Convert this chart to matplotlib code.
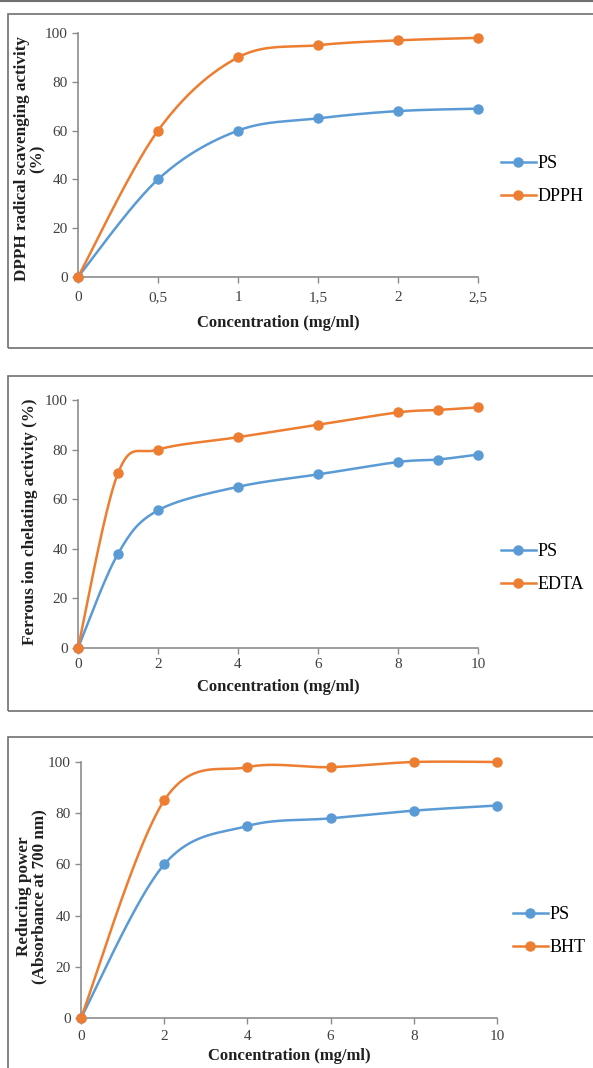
import numpy as np
import matplotlib
matplotlib.use("Agg")
import matplotlib.pyplot as plt
from matplotlib.patches import Rectangle
from matplotlib.lines import Line2D

plt.rcParams['font.family'] = ['Liberation Serif', 'DejaVu Serif']

# ---------- data ----------
dpph_conc = [0, 0.5, 1, 1.5, 2, 2.5]
dpph_ps = [0, 40, 60, 65, 68, 69]
dpph_std = [0, 60, 90, 95, 97, 98]
dpph_xticks = [0, 0.5, 1, 1.5, 2, 2.5]
dpph_xlabels = ['0', '0,5', '1', '1,5', '2', '2,5']

fe_conc = [0, 1, 2, 4, 6, 8, 9, 10]
fe_ps = [0, 38, 55.5, 65, 70, 75, 76, 78]
fe_std = [0, 70.5, 80, 85, 90, 95, 96, 97]
fe_xticks = [0, 2, 4, 6, 8, 10]

rp_conc = [0, 2, 4, 6, 8, 10]
rp_ps = [0, 60, 75, 78, 81, 83]
rp_std = [0, 85, 98, 98, 100, 100]
rp_xticks = [0, 2, 4, 6, 8, 10]

yticks = [0, 20, 40, 60, 80, 100]

BLUE = '#5B9BD5'
ORANGE = '#ED7D31'
AXCOL = '#8C8C8C'


def smooth(x, y, n=40):
    # excel style smoothed line (bezier through the points)
    x = np.asarray(x, float)
    y = np.asarray(y, float)
    pts = np.column_stack([x, y])
    out = []
    t = np.linspace(0, 1, n)[:, None]
    for i in range(len(pts) - 1):
        p0 = pts[max(i - 1, 0)]
        p1 = pts[i]
        p2 = pts[i + 1]
        p3 = pts[min(i + 2, len(pts) - 1)]
        c1 = p1 + (p2 - p0) / 6.0
        c2 = p2 - (p3 - p1) / 6.0
        seg = ((1 - t) ** 3) * p1 + 3 * ((1 - t) ** 2) * t * c1 + 3 * (1 - t) * t ** 2 * c2 + t ** 3 * p2
        out.append(seg if i == 0 else seg[1:])
    seg = np.vstack(out)
    return seg[:, 0], seg[:, 1]


def panel(rect, x, ps, std, std_name, xticks, xlabels, xmax, ylabel, ylab_xy, leg_xy,
          xpad=6, xlabpad=8):
    ax = fig.add_axes(rect)
    for yy, c in [(ps, BLUE), (std, ORANGE)]:
        sx, sy = smooth(x, yy)
        ax.plot(sx, sy, color=c, lw=1.8, zorder=3, clip_on=False)
        ax.plot(x, yy, 'o', color=c, ms=6.5, zorder=4, clip_on=False)
    ax.set_xlim(0, xmax)
    ax.set_ylim(0, 100)
    ax.set_xticks(xticks)
    ax.set_xticklabels(xlabels)
    ax.set_yticks(yticks)
    for s in ['top', 'right']:
        ax.spines[s].set_visible(False)
    for s in ['left', 'bottom']:
        ax.spines[s].set_color(AXCOL)
        ax.spines[s].set_linewidth(1.2)
    ax.tick_params(colors=AXCOL, labelcolor='#404040', labelsize=11, length=4, width=1.0)
    ax.tick_params(axis='x', pad=xpad)
    ax.set_xlabel('Concentration (mg/ml)', fontsize=12, fontweight='bold', color='#202020',
                  labelpad=xlabpad)
    ax.set_ylabel(ylabel, fontsize=12.3, fontweight='bold', color='#202020', linespacing=1.0)
    ax.yaxis.set_label_coords(*ylab_xy)
    handles = [Line2D([], [], color=BLUE, marker='o', ms=6.5, lw=1.8),
               Line2D([], [], color=ORANGE, marker='o', ms=6.5, lw=1.8)]
    ax.legend(handles, ['PS', std_name], loc='center left', bbox_to_anchor=leg_xy,
              bbox_transform=fig.transFigure, frameon=False, fontsize=13,
              handlelength=1.9, handletextpad=0.1, labelspacing=0.9, borderaxespad=0)
    return ax


W, H = 593, 1068
fig = plt.figure(figsize=(W / 100, H / 100), dpi=100)


def fr(left, top, right, bottom):
    return [left / W, 1 - bottom / H, (right - left) / W, (bottom - top) / H]


# frames around each panel
for top, bottom in [(14, 348), (376, 711), (737, 1080)]:
    fig.patches.append(Rectangle((8 / W, 1 - bottom / H), 700 / W, (bottom - top) / H,
                                 transform=fig.transFigure, fill=False,
                                 edgecolor='#707070', lw=1.2))
fig.add_artist(Line2D([0, 1], [1 - 0.8 / H, 1 - 0.8 / H], transform=fig.transFigure,
                      color='#707070', lw=1.5))

panel(fr(78, 33, 478, 277), dpph_conc, dpph_ps, dpph_std, 'DPPH',
      dpph_xticks, dpph_xlabels, 2.5,
      'DPPH radical scavenging activity\n(%)', (-0.08, 0.485), (494 / W, 1 - 180 / H))
panel(fr(78, 400, 478, 648), fe_conc, fe_ps, fe_std, 'EDTA',
      fe_xticks, [str(v) for v in fe_xticks], 10,
      'Ferrous ion chelating activity (%)', (-0.10, 0.51), (494 / W, 1 - 568 / H),
      xpad=3, xlabpad=6)
panel(fr(81, 762, 497, 1018), rp_conc, rp_ps, rp_std, 'BHT',
      rp_xticks, [str(v) for v in rp_xticks], 10,
      'Reducing power\n(Absorbance at 700 nm)', (-0.08, 0.475), (506 / W, 1 - 931 / H),
      xpad=5, xlabpad=3)

fig.savefig('out.png', dpi=100)
